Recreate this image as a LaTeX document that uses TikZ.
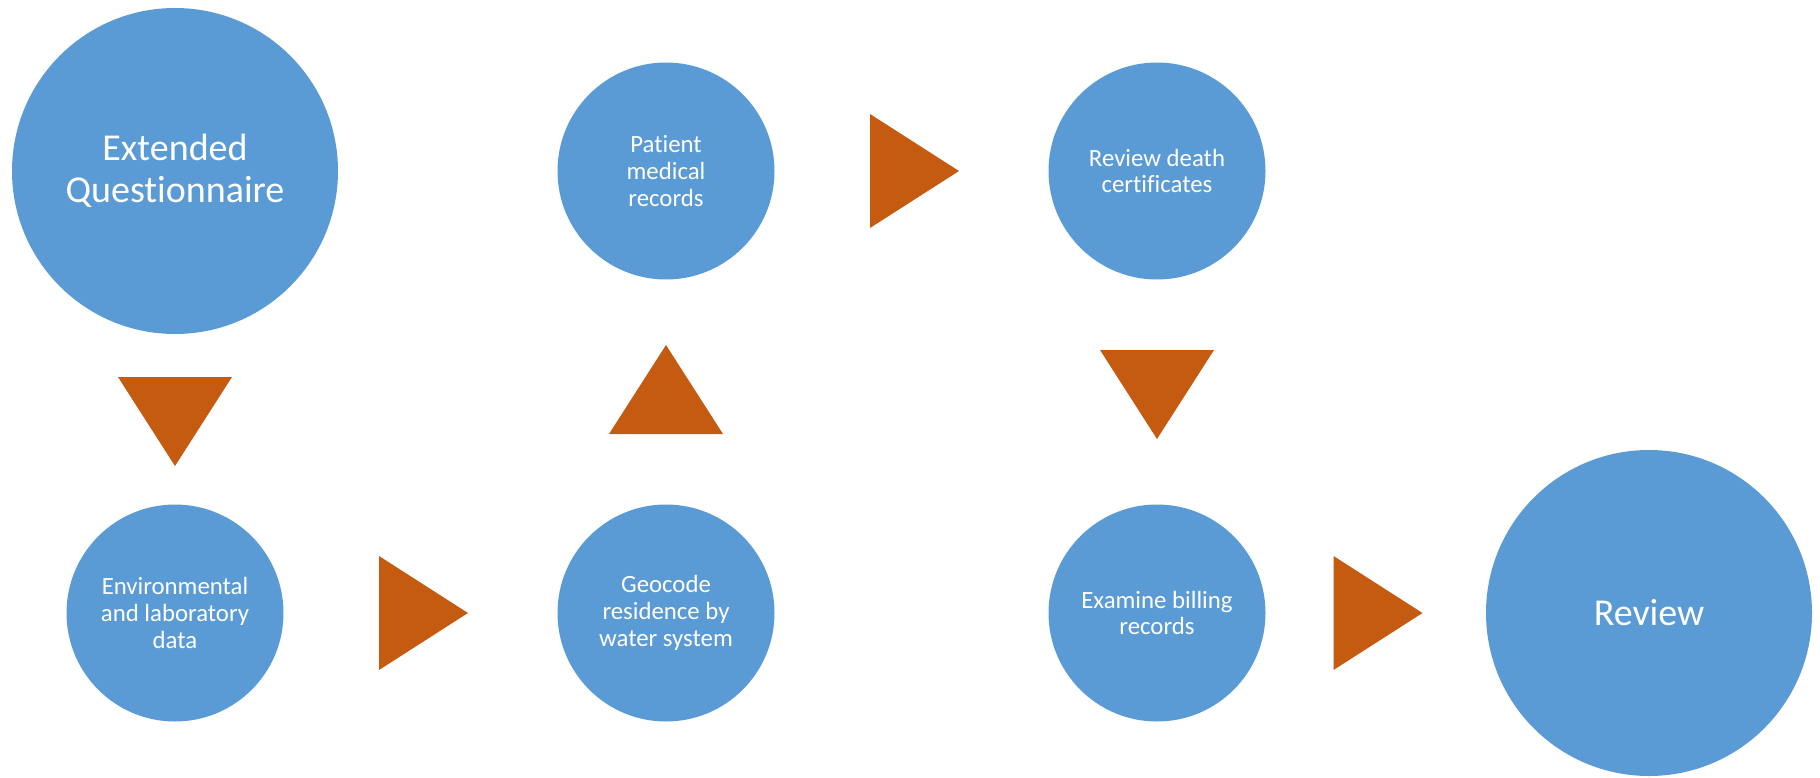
\documentclass[tikz,border=0pt]{standalone}
\usepackage{fontspec}
\setmainfont{Carlito}[Ligatures=NoCommon]
\usetikzlibrary{positioning}

\definecolor{stepblue}{HTML}{5B9BD5}
\definecolor{arroworange}{HTML}{C55A11}

\tikzset{
  smallstep/.style={circle, fill=stepblue, text=white, align=center,
    minimum size=108.5pt, inner sep=0pt, font=\fontsize{12.4}{13.35}\selectfont},
  bigstep/.style={circle, fill=stepblue, text=white, align=center,
    minimum size=163pt, inner sep=0pt, font=\fontsize{19}{21}\selectfont},
  tri/.style={fill=arroworange}
}

\begin{document}
\begin{tikzpicture}[on grid,auto]
   \useasboundingbox (0,0) rectangle (910pt,-388.5pt);

   \node[bigstep] (eq) at (87.5pt,-85.5pt) {Extended\\Questionnaire};
   \node[smallstep] (env)  [below=221pt of eq]    {Environmental\\and laboratory\\data};
   \node[smallstep] (geo)  [right=245.5pt of env] {Geocode\\residence by\\water system};
   \node[smallstep] (pat)  [above=221pt of geo]   {Patient\\medical\\records};
   \node[smallstep] (rdc)  [right=245.5pt of pat] {Review death\\certificates};
   \node[smallstep] (exam) [below=221pt of rdc]   {Examine billing\\records};
   \node[bigstep]   (rev)  [right=246pt of exam]  {Review};

   % arrow triangles
   \coordinate[below=125.25pt of eq]  (t1);
   \coordinate[right=124.25pt of env] (t2);
   \coordinate[above=111.75pt of geo] (t3);
   \coordinate[right=124.25pt of pat] (t4);
   \coordinate[below=111.75pt of rdc] (t5);
   \coordinate[right=110.5pt of exam] (t6);

   \foreach \t/\a in {t1/-90,t2/0,t3/90,t4/0,t5/-90,t6/0}
      \fill[tri, shift={(\t)}, rotate=\a]
         (-22.25pt,28.5pt) -- (22.25pt,0pt) -- (-22.25pt,-28.5pt) -- cycle;

\end{tikzpicture}
\end{document}
